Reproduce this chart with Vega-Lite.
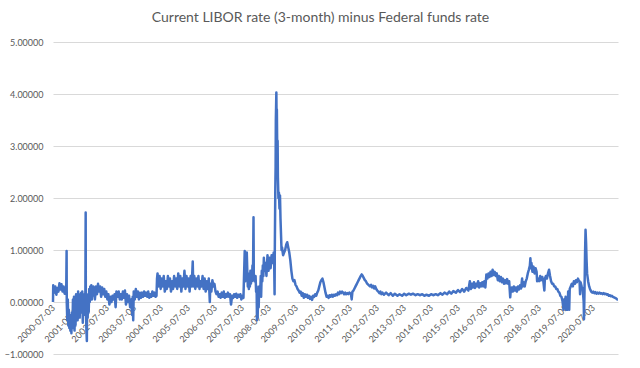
{
"$schema": "https://vega.github.io/schema/vega-lite/v6.json",
"width": 565, "height": 312,
"autosize": {"type": "none"},
"padding": {"left": 53, "top": 42, "right": 22, "bottom": 14},
"background": "white",
"title": {"text": "Current LIBOR rate (3-month) minus Federal funds rate", "font": "Lato", "fontSize": 14, "fontWeight": "normal", "color": "#595959", "anchor": "middle", "offset": 13, "dx": -15},
"data": {"values": [
{"d":"2000-07-03","v":0.0},{"d":"2000-07-06","v":0.32},{"d":"2000-07-20","v":0.18},{"d":"2000-08-03","v":0.3},{"d":"2000-08-17","v":0.14},{"d":"2000-08-31","v":0.27},{"d":"2000-09-14","v":0.2},{"d":"2000-09-28","v":0.36},{"d":"2000-10-12","v":0.24},{"d":"2000-10-26","v":0.34},{"d":"2000-11-09","v":0.2},{"d":"2000-11-23","v":0.3},{"d":"2000-12-07","v":0.16},{"d":"2000-12-21","v":0.28},{"d":"2000-12-29","v":0.25},
{"d":"2001-01-03","v":0.98},{"d":"2001-01-05","v":0.0},{"d":"2001-01-12","v":-0.35},{"d":"2001-01-19","v":0.05},{"d":"2001-01-26","v":-0.45},{"d":"2001-02-02","v":-0.15},{"d":"2001-02-09","v":-0.5},{"d":"2001-02-16","v":-0.25},{"d":"2001-02-23","v":-0.55},{"d":"2001-03-02","v":-0.3},{"d":"2001-03-09","v":-0.6},{"d":"2001-03-16","v":-0.2},{"d":"2001-03-23","v":-0.5},{"d":"2001-03-30","v":0.05},{"d":"2001-04-06","v":-0.4},{"d":"2001-04-13","v":0.1},{"d":"2001-04-20","v":-0.55},{"d":"2001-04-27","v":-0.1},{"d":"2001-05-04","v":-0.45},{"d":"2001-05-11","v":0.15},{"d":"2001-05-18","v":-0.3},{"d":"2001-05-25","v":0.1},{"d":"2001-06-01","v":-0.35},{"d":"2001-06-08","v":0.2},{"d":"2001-06-15","v":-0.1},{"d":"2001-06-22","v":0.15},{"d":"2001-06-29","v":-0.3},{"d":"2001-07-06","v":0.1},{"d":"2001-07-13","v":-0.2},{"d":"2001-07-20","v":0.18},{"d":"2001-07-27","v":-0.15},{"d":"2001-08-03","v":0.2},{"d":"2001-08-10","v":-0.4},{"d":"2001-08-17","v":0.1},{"d":"2001-08-24","v":-0.25},{"d":"2001-08-31","v":0.15},{"d":"2001-09-07","v":-0.1},{"d":"2001-09-14","v":0.2},{"d":"2001-09-18","v":1.72},{"d":"2001-09-20","v":0.0},{"d":"2001-09-27","v":-0.5},{"d":"2001-10-04","v":-0.75},{"d":"2001-10-08","v":0.1},{"d":"2001-10-15","v":-0.3},{"d":"2001-10-22","v":0.15},{"d":"2001-10-29","v":-0.2},{"d":"2001-11-05","v":0.25},{"d":"2001-11-12","v":0.0},{"d":"2001-11-19","v":0.3},{"d":"2001-11-26","v":0.1},{"d":"2001-12-03","v":0.32},{"d":"2001-12-10","v":0.05},{"d":"2001-12-17","v":0.28},{"d":"2001-12-24","v":0.12},{"d":"2001-12-31","v":0.3},
{"d":"2002-01-07","v":0.25},{"d":"2002-01-21","v":0.05},{"d":"2002-02-04","v":0.3},{"d":"2002-02-18","v":0.15},{"d":"2002-03-04","v":0.35},{"d":"2002-03-18","v":0.2},{"d":"2002-04-01","v":0.3},{"d":"2002-04-15","v":0.1},{"d":"2002-04-29","v":0.28},{"d":"2002-05-13","v":0.15},{"d":"2002-05-27","v":0.25},{"d":"2002-06-10","v":0.1},{"d":"2002-06-24","v":0.2},{"d":"2002-07-08","v":0.05},{"d":"2002-07-22","v":0.15},{"d":"2002-08-05","v":-0.05},{"d":"2002-08-19","v":0.1},{"d":"2002-09-02","v":0.0},{"d":"2002-09-16","v":0.12},{"d":"2002-09-30","v":0.05},{"d":"2002-10-14","v":0.15},{"d":"2002-10-28","v":-0.1},{"d":"2002-11-08","v":0.2},{"d":"2002-11-25","v":0.1},{"d":"2002-12-09","v":0.2},{"d":"2002-12-23","v":0.05},
{"d":"2003-01-06","v":0.15},{"d":"2003-01-20","v":0.05},{"d":"2003-02-03","v":0.2},{"d":"2003-02-17","v":0.08},{"d":"2003-03-03","v":0.22},{"d":"2003-03-17","v":-0.05},{"d":"2003-03-31","v":0.15},{"d":"2003-04-14","v":0.0},{"d":"2003-04-28","v":0.12},{"d":"2003-05-12","v":-0.1},{"d":"2003-05-26","v":0.05},{"d":"2003-06-09","v":-0.25},{"d":"2003-06-16","v":0.1},{"d":"2003-06-23","v":-0.35},{"d":"2003-06-30","v":0.2},{"d":"2003-07-14","v":0.05},{"d":"2003-07-28","v":0.25},{"d":"2003-08-11","v":0.1},{"d":"2003-08-25","v":0.2},{"d":"2003-09-08","v":0.05},{"d":"2003-09-22","v":0.18},{"d":"2003-10-06","v":0.08},{"d":"2003-10-20","v":0.18},{"d":"2003-11-03","v":0.1},{"d":"2003-11-17","v":0.2},{"d":"2003-12-01","v":0.12},{"d":"2003-12-15","v":0.18},{"d":"2003-12-29","v":0.1},
{"d":"2004-01-12","v":0.2},{"d":"2004-01-26","v":0.08},{"d":"2004-02-09","v":0.15},{"d":"2004-02-23","v":0.1},{"d":"2004-03-08","v":0.2},{"d":"2004-03-22","v":0.12},{"d":"2004-04-05","v":0.18},{"d":"2004-04-19","v":0.1},{"d":"2004-05-03","v":0.12},{"d":"2004-05-10","v":0.45},{"d":"2004-05-17","v":0.55},{"d":"2004-05-31","v":0.3},{"d":"2004-06-14","v":0.5},{"d":"2004-06-28","v":0.25},{"d":"2004-07-12","v":0.45},{"d":"2004-07-26","v":0.3},{"d":"2004-08-09","v":0.5},{"d":"2004-08-23","v":0.2},{"d":"2004-09-06","v":0.4},{"d":"2004-09-20","v":0.25},{"d":"2004-10-04","v":0.5},{"d":"2004-10-18","v":0.3},{"d":"2004-11-01","v":0.45},{"d":"2004-11-15","v":0.2},{"d":"2004-11-29","v":0.4},{"d":"2004-12-13","v":0.25},{"d":"2004-12-27","v":0.5},
{"d":"2005-01-10","v":0.3},{"d":"2005-01-24","v":0.45},{"d":"2005-02-07","v":0.25},{"d":"2005-02-21","v":0.55},{"d":"2005-03-07","v":0.3},{"d":"2005-03-21","v":0.5},{"d":"2005-04-04","v":0.2},{"d":"2005-04-18","v":0.45},{"d":"2005-05-02","v":0.3},{"d":"2005-05-16","v":0.6},{"d":"2005-05-30","v":0.25},{"d":"2005-06-13","v":0.5},{"d":"2005-06-27","v":0.3},{"d":"2005-07-11","v":0.45},{"d":"2005-07-25","v":0.2},{"d":"2005-08-08","v":0.5},{"d":"2005-08-22","v":0.3},{"d":"2005-09-05","v":0.78},{"d":"2005-09-12","v":0.3},{"d":"2005-09-26","v":0.5},{"d":"2005-10-10","v":0.25},{"d":"2005-10-24","v":0.45},{"d":"2005-11-07","v":0.3},{"d":"2005-11-21","v":0.5},{"d":"2005-12-05","v":0.25},{"d":"2005-12-19","v":0.4},
{"d":"2006-01-02","v":0.3},{"d":"2006-01-16","v":0.5},{"d":"2006-01-30","v":0.25},{"d":"2006-02-13","v":0.45},{"d":"2006-02-27","v":0.2},{"d":"2006-03-13","v":0.4},{"d":"2006-03-27","v":0.25},{"d":"2006-04-10","v":0.45},{"d":"2006-04-24","v":0.0},{"d":"2006-05-01","v":0.35},{"d":"2006-05-15","v":0.2},{"d":"2006-05-29","v":0.42},{"d":"2006-06-12","v":0.3},{"d":"2006-06-26","v":0.35},{"d":"2006-07-10","v":0.2},{"d":"2006-07-24","v":0.15},{"d":"2006-08-07","v":0.2},{"d":"2006-08-21","v":0.1},{"d":"2006-09-04","v":0.15},{"d":"2006-09-18","v":0.08},{"d":"2006-10-02","v":0.18},{"d":"2006-10-16","v":0.1},{"d":"2006-10-30","v":0.2},{"d":"2006-11-13","v":0.08},{"d":"2006-11-27","v":0.15},{"d":"2006-12-11","v":0.1},{"d":"2006-12-25","v":0.18},
{"d":"2007-01-08","v":0.1},{"d":"2007-01-22","v":0.15},{"d":"2007-02-05","v":-0.05},{"d":"2007-02-19","v":0.12},{"d":"2007-03-05","v":0.08},{"d":"2007-03-19","v":0.15},{"d":"2007-04-02","v":0.1},{"d":"2007-04-16","v":0.16},{"d":"2007-04-30","v":0.08},{"d":"2007-05-14","v":0.14},{"d":"2007-05-28","v":0.1},{"d":"2007-06-11","v":0.15},{"d":"2007-06-25","v":0.05},{"d":"2007-07-09","v":0.12},{"d":"2007-07-23","v":0.08},{"d":"2007-08-09","v":0.98},{"d":"2007-08-16","v":0.4},{"d":"2007-08-23","v":0.9},{"d":"2007-08-30","v":0.5},{"d":"2007-09-06","v":0.95},{"d":"2007-09-13","v":0.6},{"d":"2007-09-20","v":0.3},{"d":"2007-09-27","v":0.55},{"d":"2007-10-04","v":0.25},{"d":"2007-10-11","v":0.5},{"d":"2007-10-18","v":0.3},{"d":"2007-10-25","v":0.6},{"d":"2007-11-01","v":0.35},{"d":"2007-11-08","v":0.55},{"d":"2007-11-15","v":0.4},{"d":"2007-11-22","v":0.7},{"d":"2007-11-29","v":0.5},{"d":"2007-12-06","v":1.63},{"d":"2007-12-10","v":0.5},{"d":"2007-12-20","v":0.4},
{"d":"2008-01-03","v":0.5},{"d":"2008-01-10","v":0.2},{"d":"2008-01-17","v":0.3},{"d":"2008-01-22","v":-0.35},{"d":"2008-01-25","v":0.1},{"d":"2008-01-31","v":-0.3},{"d":"2008-02-07","v":0.2},{"d":"2008-02-14","v":-0.1},{"d":"2008-02-21","v":0.3},{"d":"2008-03-06","v":0.2},{"d":"2008-03-13","v":0.5},{"d":"2008-03-18","v":0.1},{"d":"2008-03-27","v":0.6},{"d":"2008-04-03","v":0.4},{"d":"2008-04-10","v":0.7},{"d":"2008-04-17","v":0.5},{"d":"2008-04-24","v":0.85},{"d":"2008-05-01","v":0.6},{"d":"2008-05-15","v":0.75},{"d":"2008-05-29","v":0.5},{"d":"2008-06-12","v":0.9},{"d":"2008-06-26","v":0.6},{"d":"2008-07-10","v":0.85},{"d":"2008-07-24","v":0.65},{"d":"2008-08-07","v":0.9},{"d":"2008-08-21","v":0.75},{"d":"2008-09-04","v":0.95},{"d":"2008-09-11","v":0.7},{"d":"2008-09-16","v":0.15},{"d":"2008-09-19","v":1.0},{"d":"2008-09-26","v":2.2},{"d":"2008-09-30","v":2.6},{"d":"2008-10-03","v":3.5},{"d":"2008-10-10","v":4.03},{"d":"2008-10-14","v":3.4},{"d":"2008-10-17","v":3.7},{"d":"2008-10-22","v":2.9},{"d":"2008-10-27","v":3.1},{"d":"2008-10-31","v":2.4},{"d":"2008-11-07","v":2.0},{"d":"2008-11-14","v":2.1},{"d":"2008-11-21","v":1.8},{"d":"2008-11-28","v":2.05},{"d":"2008-12-05","v":1.6},{"d":"2008-12-12","v":1.3},{"d":"2008-12-19","v":1.0},{"d":"2008-12-26","v":1.05},
{"d":"2009-01-09","v":0.9},{"d":"2009-01-23","v":0.95},{"d":"2009-02-06","v":1.0},{"d":"2009-02-20","v":1.1},{"d":"2009-03-06","v":1.15},{"d":"2009-03-20","v":1.05},{"d":"2009-04-03","v":0.95},{"d":"2009-04-17","v":0.8},{"d":"2009-05-01","v":0.6},{"d":"2009-05-15","v":0.45},{"d":"2009-05-29","v":0.4},{"d":"2009-06-12","v":0.42},{"d":"2009-06-26","v":0.33},{"d":"2009-07-10","v":0.3},{"d":"2009-07-24","v":0.25},{"d":"2009-08-07","v":0.22},{"d":"2009-08-21","v":0.18},{"d":"2009-09-04","v":0.2},{"d":"2009-09-18","v":0.12},{"d":"2009-10-02","v":0.17},{"d":"2009-10-16","v":0.08},{"d":"2009-10-30","v":0.15},{"d":"2009-11-13","v":0.1},{"d":"2009-11-27","v":0.14},{"d":"2009-12-11","v":0.08},{"d":"2009-12-25","v":0.12},
{"d":"2010-01-08","v":0.06},{"d":"2010-01-22","v":0.1},{"d":"2010-02-05","v":0.04},{"d":"2010-02-19","v":0.12},{"d":"2010-03-05","v":0.1},{"d":"2010-03-19","v":0.15},{"d":"2010-04-02","v":0.12},{"d":"2010-04-16","v":0.18},{"d":"2010-04-30","v":0.22},{"d":"2010-05-14","v":0.3},{"d":"2010-05-28","v":0.38},{"d":"2010-06-11","v":0.42},{"d":"2010-06-25","v":0.45},{"d":"2010-07-09","v":0.38},{"d":"2010-07-23","v":0.28},{"d":"2010-08-06","v":0.18},{"d":"2010-08-20","v":0.1},{"d":"2010-09-03","v":0.12},{"d":"2010-09-17","v":0.08},{"d":"2010-10-01","v":0.13},{"d":"2010-10-15","v":0.1},{"d":"2010-10-29","v":0.14},{"d":"2010-11-12","v":0.1},{"d":"2010-11-26","v":0.14},{"d":"2010-12-10","v":0.12},{"d":"2010-12-24","v":0.15},
{"d":"2011-01-07","v":0.13},{"d":"2011-01-21","v":0.18},{"d":"2011-02-04","v":0.15},{"d":"2011-02-18","v":0.2},{"d":"2011-03-04","v":0.17},{"d":"2011-03-18","v":0.2},{"d":"2011-04-01","v":0.18},{"d":"2011-04-15","v":0.15},{"d":"2011-04-29","v":0.18},{"d":"2011-05-13","v":0.15},{"d":"2011-05-27","v":0.17},{"d":"2011-06-10","v":0.15},{"d":"2011-06-24","v":0.18},{"d":"2011-07-15","v":0.16},{"d":"2011-07-26","v":0.05},{"d":"2011-08-05","v":0.2},{"d":"2011-08-19","v":0.22},{"d":"2011-09-02","v":0.26},{"d":"2011-09-16","v":0.3},{"d":"2011-09-30","v":0.34},{"d":"2011-10-14","v":0.38},{"d":"2011-10-28","v":0.42},{"d":"2011-11-11","v":0.46},{"d":"2011-11-25","v":0.5},{"d":"2011-12-09","v":0.53},{"d":"2011-12-23","v":0.5},
{"d":"2012-01-06","v":0.46},{"d":"2012-01-20","v":0.42},{"d":"2012-02-03","v":0.4},{"d":"2012-02-17","v":0.36},{"d":"2012-03-02","v":0.34},{"d":"2012-03-16","v":0.32},{"d":"2012-03-30","v":0.3},{"d":"2012-04-13","v":0.33},{"d":"2012-04-27","v":0.28},{"d":"2012-05-11","v":0.31},{"d":"2012-05-25","v":0.26},{"d":"2012-06-08","v":0.3},{"d":"2012-06-22","v":0.25},{"d":"2012-07-06","v":0.22},{"d":"2012-07-20","v":0.2},{"d":"2012-08-03","v":0.17},{"d":"2012-08-17","v":0.2},{"d":"2012-08-31","v":0.15},{"d":"2012-09-14","v":0.18},{"d":"2012-10-05","v":0.14},{"d":"2012-11-02","v":0.18},{"d":"2012-12-07","v":0.13},
{"d":"2013-01-04","v":0.17},{"d":"2013-02-01","v":0.12},{"d":"2013-03-01","v":0.16},{"d":"2013-04-05","v":0.12},{"d":"2013-05-03","v":0.15},{"d":"2013-06-07","v":0.12},{"d":"2013-07-05","v":0.16},{"d":"2013-08-02","v":0.13},{"d":"2013-09-06","v":0.16},{"d":"2013-10-04","v":0.14},{"d":"2013-11-01","v":0.16},{"d":"2013-12-06","v":0.13},
{"d":"2014-01-03","v":0.15},{"d":"2014-02-07","v":0.13},{"d":"2014-03-07","v":0.15},{"d":"2014-04-04","v":0.12},{"d":"2014-05-02","v":0.14},{"d":"2014-06-06","v":0.12},{"d":"2014-07-04","v":0.15},{"d":"2014-08-01","v":0.13},{"d":"2014-09-05","v":0.15},{"d":"2014-10-03","v":0.13},{"d":"2014-11-07","v":0.17},{"d":"2014-12-05","v":0.14},
{"d":"2015-01-02","v":0.18},{"d":"2015-02-06","v":0.15},{"d":"2015-03-06","v":0.2},{"d":"2015-04-03","v":0.16},{"d":"2015-05-01","v":0.21},{"d":"2015-06-05","v":0.18},{"d":"2015-07-03","v":0.23},{"d":"2015-07-31","v":0.19},{"d":"2015-08-28","v":0.25},{"d":"2015-09-25","v":0.2},{"d":"2015-10-23","v":0.27},{"d":"2015-11-20","v":0.22},{"d":"2015-12-10","v":0.4},{"d":"2015-12-24","v":0.25},
{"d":"2016-01-07","v":0.35},{"d":"2016-01-21","v":0.28},{"d":"2016-02-04","v":0.38},{"d":"2016-02-18","v":0.27},{"d":"2016-03-03","v":0.35},{"d":"2016-03-17","v":0.3},{"d":"2016-03-31","v":0.4},{"d":"2016-04-14","v":0.28},{"d":"2016-04-28","v":0.36},{"d":"2016-05-12","v":0.3},{"d":"2016-05-26","v":0.38},{"d":"2016-06-09","v":0.3},{"d":"2016-06-23","v":0.4},{"d":"2016-07-07","v":0.28},{"d":"2016-07-21","v":0.53},{"d":"2016-08-04","v":0.45},{"d":"2016-08-18","v":0.55},{"d":"2016-09-01","v":0.48},{"d":"2016-09-15","v":0.58},{"d":"2016-09-29","v":0.5},{"d":"2016-10-13","v":0.62},{"d":"2016-10-27","v":0.52},{"d":"2016-11-10","v":0.58},{"d":"2016-11-24","v":0.5},{"d":"2016-12-08","v":0.55},{"d":"2016-12-22","v":0.42},
{"d":"2017-01-05","v":0.5},{"d":"2017-01-19","v":0.4},{"d":"2017-02-02","v":0.48},{"d":"2017-02-16","v":0.38},{"d":"2017-03-02","v":0.45},{"d":"2017-03-16","v":0.35},{"d":"2017-03-30","v":0.42},{"d":"2017-04-13","v":0.36},{"d":"2017-04-27","v":0.44},{"d":"2017-05-11","v":0.35},{"d":"2017-05-25","v":0.4},{"d":"2017-06-08","v":0.09},{"d":"2017-06-15","v":0.22},{"d":"2017-06-29","v":0.28},{"d":"2017-07-13","v":0.2},{"d":"2017-07-27","v":0.3},{"d":"2017-08-10","v":0.22},{"d":"2017-08-24","v":0.28},{"d":"2017-09-07","v":0.2},{"d":"2017-09-21","v":0.3},{"d":"2017-10-05","v":0.24},{"d":"2017-10-19","v":0.32},{"d":"2017-11-02","v":0.26},{"d":"2017-11-16","v":0.45},{"d":"2017-11-23","v":0.3},{"d":"2017-12-07","v":0.38},{"d":"2017-12-21","v":0.3},
{"d":"2018-01-04","v":0.4},{"d":"2018-01-18","v":0.45},{"d":"2018-02-01","v":0.55},{"d":"2018-02-15","v":0.62},{"d":"2018-03-01","v":0.7},{"d":"2018-03-08","v":0.84},{"d":"2018-03-15","v":0.65},{"d":"2018-03-22","v":0.75},{"d":"2018-04-05","v":0.58},{"d":"2018-04-19","v":0.68},{"d":"2018-05-03","v":0.55},{"d":"2018-05-17","v":0.65},{"d":"2018-05-31","v":0.58},{"d":"2018-06-07","v":0.4},{"d":"2018-06-21","v":0.45},{"d":"2018-07-05","v":0.4},{"d":"2018-07-19","v":0.5},{"d":"2018-08-02","v":0.42},{"d":"2018-08-16","v":0.48},{"d":"2018-08-30","v":0.4},{"d":"2018-09-13","v":0.22},{"d":"2018-09-20","v":0.45},{"d":"2018-10-04","v":0.5},{"d":"2018-10-18","v":0.45},{"d":"2018-11-01","v":0.55},{"d":"2018-11-15","v":0.62},{"d":"2018-11-29","v":0.5},{"d":"2018-12-13","v":0.4},{"d":"2018-12-27","v":0.35},
{"d":"2019-01-10","v":0.35},{"d":"2019-01-24","v":0.3},{"d":"2019-02-07","v":0.3},{"d":"2019-02-21","v":0.25},{"d":"2019-03-07","v":0.25},{"d":"2019-03-21","v":0.2},{"d":"2019-04-04","v":0.18},{"d":"2019-04-18","v":0.12},{"d":"2019-05-02","v":0.1},{"d":"2019-05-16","v":0.02},{"d":"2019-05-30","v":-0.15},{"d":"2019-06-06","v":0.05},{"d":"2019-06-13","v":-0.12},{"d":"2019-06-27","v":0.1},{"d":"2019-07-04","v":-0.15},{"d":"2019-07-18","v":0.0},{"d":"2019-07-25","v":-0.15},{"d":"2019-08-01","v":0.2},{"d":"2019-08-15","v":-0.15},{"d":"2019-08-22","v":0.25},{"d":"2019-09-05","v":0.3},{"d":"2019-09-19","v":0.35},{"d":"2019-10-03","v":0.3},{"d":"2019-10-17","v":0.4},{"d":"2019-10-31","v":0.35},{"d":"2019-11-14","v":0.42},{"d":"2019-11-28","v":0.38},{"d":"2019-12-12","v":0.45},{"d":"2019-12-26","v":0.4},
{"d":"2020-01-02","v":0.4},{"d":"2020-01-09","v":0.15},{"d":"2020-01-16","v":0.38},{"d":"2020-01-30","v":0.3},{"d":"2020-02-13","v":0.25},{"d":"2020-02-27","v":0.0},{"d":"2020-03-02","v":-0.33},{"d":"2020-03-09","v":0.2},{"d":"2020-03-16","v":0.9},{"d":"2020-03-23","v":1.39},{"d":"2020-03-30","v":1.15},{"d":"2020-04-06","v":0.8},{"d":"2020-04-13","v":0.55},{"d":"2020-04-27","v":0.4},{"d":"2020-05-11","v":0.3},{"d":"2020-05-25","v":0.24},{"d":"2020-06-08","v":0.2},{"d":"2020-06-22","v":0.18},{"d":"2020-07-06","v":0.2},{"d":"2020-07-20","v":0.17},{"d":"2020-08-03","v":0.19},{"d":"2020-08-17","v":0.16},{"d":"2020-08-31","v":0.18},{"d":"2020-09-14","v":0.16},{"d":"2020-09-28","v":0.18},{"d":"2020-10-12","v":0.16},{"d":"2020-10-26","v":0.17},{"d":"2020-11-09","v":0.15},{"d":"2020-11-23","v":0.17},{"d":"2020-12-07","v":0.15},{"d":"2020-12-21","v":0.16},
{"d":"2021-01-04","v":0.14},{"d":"2021-01-18","v":0.15},{"d":"2021-02-01","v":0.12},{"d":"2021-02-15","v":0.13},{"d":"2021-03-01","v":0.11},{"d":"2021-03-15","v":0.12},{"d":"2021-03-29","v":0.1},{"d":"2021-04-12","v":0.09},{"d":"2021-04-26","v":0.08},{"d":"2021-05-10","v":0.07},{"d":"2021-05-24","v":0.05},{"d":"2021-06-04","v":0.05}
]},
"mark": {"type": "line", "color": "#4472C4", "strokeWidth": 2.5, "strokeJoin": "round"},
"encoding": {
  "x": {"field": "d", "type": "temporal",
    "scale": {"type": "utc", "domain": [{"year": 2000, "month": 7, "date": 3, "utc": true}, {"year": 2021, "month": 6, "date": 5, "utc": true}]},
    "axis": {"title": null, "format": "%Y-%m-%d", "labelAngle": -45, "labelAlign": "right", "labelBaseline": "middle", "offset": -52, "grid": false, "domain": false, "ticks": false, "labelFont": "Lato", "labelFontSize": 9, "labelColor": "#595959", "labelPadding": 4, "labelOverlap": false,
      "values": [{"year":2000,"month":7,"date":3,"utc":true},{"year":2001,"month":7,"date":3,"utc":true},{"year":2002,"month":7,"date":3,"utc":true},{"year":2003,"month":7,"date":3,"utc":true},{"year":2004,"month":7,"date":3,"utc":true},{"year":2005,"month":7,"date":3,"utc":true},{"year":2006,"month":7,"date":3,"utc":true},{"year":2007,"month":7,"date":3,"utc":true},{"year":2008,"month":7,"date":3,"utc":true},{"year":2009,"month":7,"date":3,"utc":true},{"year":2010,"month":7,"date":3,"utc":true},{"year":2011,"month":7,"date":3,"utc":true},{"year":2012,"month":7,"date":3,"utc":true},{"year":2013,"month":7,"date":3,"utc":true},{"year":2014,"month":7,"date":3,"utc":true},{"year":2015,"month":7,"date":3,"utc":true},{"year":2016,"month":7,"date":3,"utc":true},{"year":2017,"month":7,"date":3,"utc":true},{"year":2018,"month":7,"date":3,"utc":true},{"year":2019,"month":7,"date":3,"utc":true},{"year":2020,"month":7,"date":3,"utc":true}]}},
  "y": {"field": "v", "type": "quantitative",
    "scale": {"domain": [-1, 5], "nice": false, "zero": false},
    "axis": {"title": null, "values": [-1, 0, 1, 2, 3, 4, 5], "format": ".5f", "grid": true, "gridColor": "#d9d9d9", "gridWidth": 1, "domain": false, "ticks": false, "labelFont": "Lato", "labelFontSize": 9, "labelColor": "#595959", "labelPadding": 10}}
},
"config": {"view": {"stroke": null}}
}
